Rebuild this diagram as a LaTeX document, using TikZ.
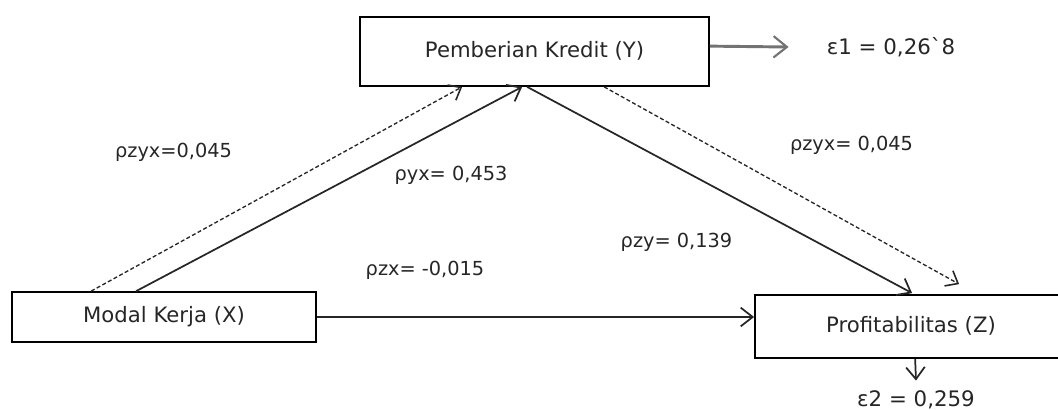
\documentclass[tikz,border=0pt]{standalone}
\usepackage{fontspec}
\newfontfamily\dvs{DejaVu Sans}
\usetikzlibrary{arrows.meta,calc}
\tikzset{
  box/.style={draw=black,line width=1.3pt,inner sep=0pt,font=\dvs\fontsize{15.9}{18}\selectfont,text=black!85},
  lbl/.style={inner sep=0pt,font=\dvs\fontsize{14.5}{17}\selectfont,text=black!85},
  eps/.style={inner sep=0pt,font=\dvs\fontsize{16}{19}\selectfont,text=black!85},
  conn/.style={line width=1.3pt,black!85,-{Straight Barb[length=9pt,width=14pt,line width=1.3pt]}},
  dconn/.style={line width=1pt,black!85,dash pattern=on 3pt off 1.8pt,-{Straight Barb[length=8pt,width=13pt,line width=1.2pt]}},
}
\begin{document}
\begin{tikzpicture}[x=0.75pt,y=-0.75pt]
\useasboundingbox (0,0) rectangle (1058,410);
% boxes
\node[box,minimum width=349*0.75pt,minimum height=69*0.75pt] (Y) at (534.5,51.5) {\raisebox{3pt}{Pemberian Kredit (Y)}};
\node[box,minimum width=304*0.75pt,minimum height=50*0.75pt] (X) at (164,317) {Modal Kerja (X)};
\node[box,minimum width=312*0.75pt,minimum height=63*0.75pt] (Z) at (911,326.5) {\raisebox{2.5pt}{Profitabilitas (Z)}};
% labels
\node[eps] (e1) at (891,47) {ε1 = 0,26\char"60 8};
\node[eps] (e2) at (916,400) {ε2 = 0,259};
\node[lbl] (l1) at (173.5,152) {ρzyx=0,045};
\node[lbl] (l2) at (451,175) {ρyx= 0,453};
\node[lbl] (l3) at (676.5,242) {ρzy= 0,139};
\node[lbl] (l4) at (425,270) {ρzx= -0,015};
\node[lbl] (l5) at (851.5,145) {ρzyx= 0,045};
% connectors
\draw[dconn] ($(X.north west)+(80,0)$) -- ($(Y.south west)+(103,0)$);
\draw[conn] ($(X.north west)+(125,0)$) -- ($(Y.south west)+(163,0)$);
\draw[conn] ($(Y.south west)+(168,0)$) -- ($(Z.north west)+(158,-1)$);
\draw[dconn] ($(Y.south west)+(245,0)$) -- ($(Z.north west)+(205,-10)$);
\draw[conn] (X.east) -- (X.east -| Z.west);
\draw[line width=2.2pt,black!55,-{Straight Barb[length=10pt,width=16pt,line width=1.6pt]}] ($(Y.north east)+(0,30)$) -- ($(e1.west)+(-38,0)$);
\draw[conn] ($(Z.south west)+(161,0)$) -- ($(e2.north)+(0,-10)$);
\end{tikzpicture}
\end{document}
